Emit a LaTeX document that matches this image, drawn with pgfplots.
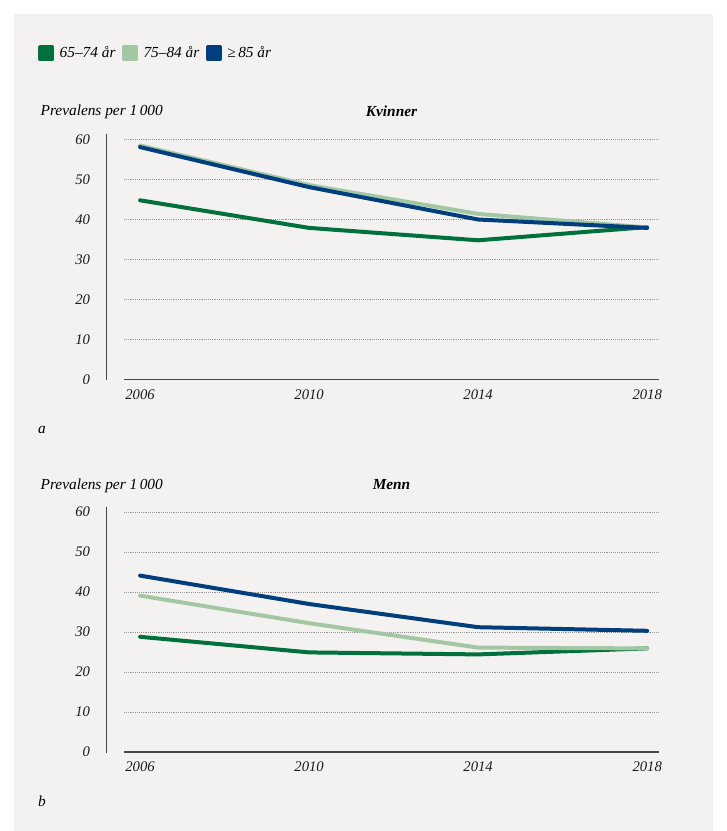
\documentclass[border=0pt]{standalone}
\usepackage{pgfplots}
\pgfplotsset{compat=1.18}
\usepackage{fontspec}
\setmainfont{Liberation Serif}

\definecolor{dgreen}{RGB}{0,112,60}
\definecolor{lgreen}{RGB}{163,199,163}
\definecolor{dblue}{RGB}{0,62,126}
\definecolor{bg}{RGB}{243,242,240}
\definecolor{axgray}{RGB}{70,70,70}

\pgfplotsset{
  panel/.style={
    scale only axis,
    width=401.25pt, height=184.5pt,
    xmin=2005.62, xmax=2018.28,
    ymin=0, ymax=61.5,
    xtick={2006,2010,2014,2018},
    ytick={0,10,...,60},
    axis x line*=bottom,
    axis y line*=left,
    y axis line style={draw=none},
    x axis line style={draw=axgray, line width=0.9pt, -},
    major tick length=0pt,
    ymajorgrids,
    grid style={densely dotted, gray!80, line width=0.6pt},
    /pgf/number format/assume math mode=true,
    /pgf/number format/1000 sep={},
    tick label style={font=\fontsize{11}{13}\selectfont\itshape, text=black!90},
    yticklabel style={anchor=east, xshift=-22pt},
    xticklabel style={yshift=-4pt},
    title style={font=\fontsize{11.5}{13}\selectfont\bfseries\itshape, at={(0.5,1)}, anchor=south, yshift=3pt},
    every axis plot/.append style={line width=3pt, line cap=round, line join=round},
  }
}

\begin{document}
\begin{tikzpicture}
\begin{scope}[x=0.75pt,y=-0.75pt]
\fill[white] (0,0) rectangle (727,831);
\fill[bg] (14,14) rectangle (713,831);
\draw[axgray, line width=0.9pt] (106.7,134) -- (106.7,380);
\node[anchor=west, font=\fontsize{11.5}{13}\selectfont\itshape] at (36,112) {Prevalens per 1\,000};
\node[font=\fontsize{11.5}{13}\selectfont\itshape] at (42,430) {a};
\draw[axgray, line width=0.9pt] (106.7,506.5) -- (106.7,753);
\node[anchor=west, font=\fontsize{11.5}{13}\selectfont\itshape] at (36,486) {Prevalens per 1\,000};
\node[font=\fontsize{11.5}{13}\selectfont\itshape] at (42,801) {b};
\end{scope}

% panel a
\begin{axis}[panel, at={(93pt,-284.625pt)}, anchor=south west,
  title={Kvinner},
  legend columns=3,
  legend style={at={(-0.168,1.326)}, anchor=west, draw=none, fill=none,
    font=\fontsize{11.5}{13}\selectfont\itshape,
    /tikz/every odd column/.append style={column sep=2pt},
    /tikz/every even column/.append style={column sep=3pt}},
  legend cell align=left,
  legend image code/.code={\fill[#1] (0pt,-4.5pt) rectangle (9pt,4.5pt);},
]
\addplot[dgreen] coordinates {(2006,44.8) (2010,37.9) (2014,34.8) (2018,38.1)};
\addplot[lgreen] coordinates {(2006,58.5) (2010,48.6) (2014,41.4) (2018,38.0)};
\addplot[dblue] coordinates {(2006,58.1) (2010,48.1) (2014,40.0) (2018,37.9)};
\legend{65–74 år, 75–84 år, ≥\,85 år}
\end{axis}

% panel b
\begin{axis}[panel, at={(93pt,-564pt)}, anchor=south west,
  title={Menn},
]
\addplot[dgreen] coordinates {(2006,28.8) (2010,24.9) (2014,24.4) (2018,25.9)};
\addplot[lgreen] coordinates {(2006,39.1) (2010,32.2) (2014,26.1) (2018,25.9)};
\addplot[dblue] coordinates {(2006,44.1) (2010,37.0) (2014,31.2) (2018,30.3)};
\end{axis}
\end{tikzpicture}
\end{document}
